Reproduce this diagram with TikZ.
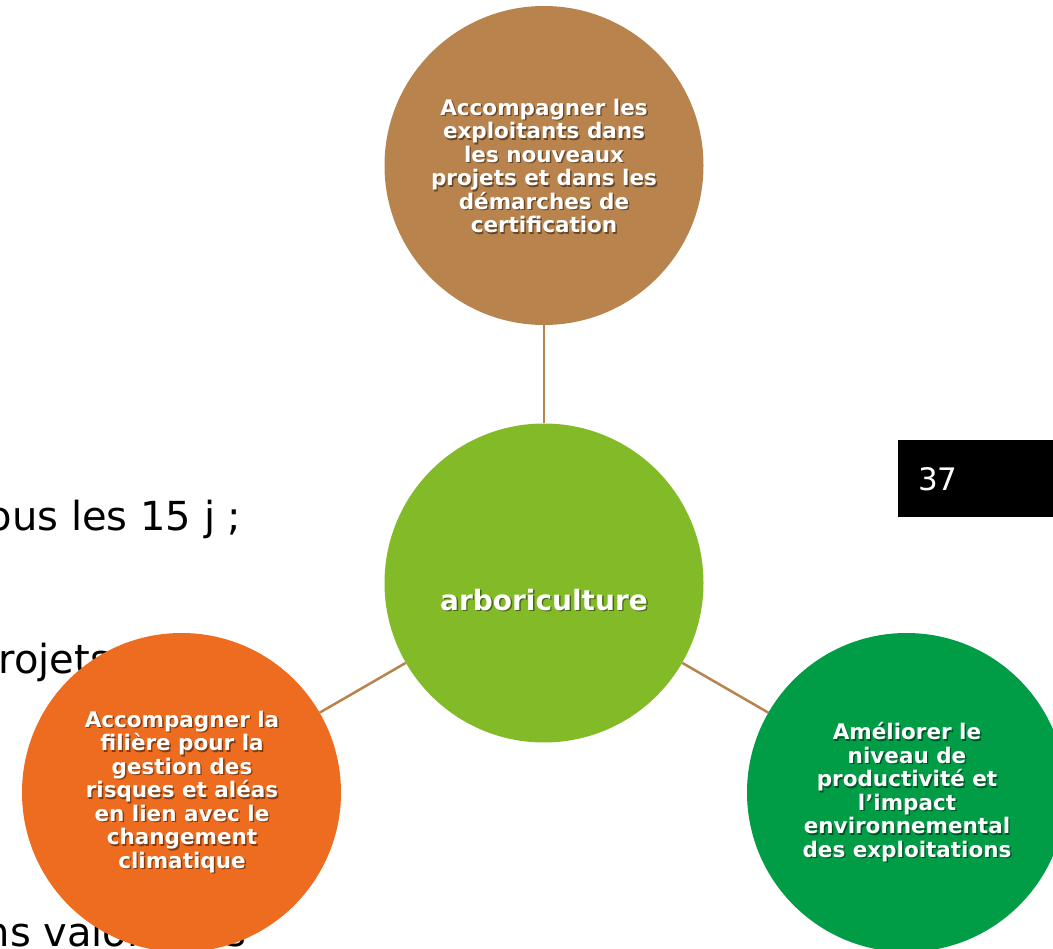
\documentclass[tikz,border=0pt]{standalone}
\usepackage{fontspec}
\setmainfont{DejaVu Sans}
\usetikzlibrary{calc}
\definecolor{cbrown}{RGB}{185,131,77}
\definecolor{clime}{RGB}{131,187,40}
\definecolor{corange}{RGB}{237,108,31}
\definecolor{cgreen}{RGB}{0,156,70}
\tikzset{
  circ/.style={circle, minimum size=319pt, inner sep=0pt, draw=none},
  link/.style={draw=cbrown, line width=2.5pt},
  ctxt/.style={align=center, inner sep=0pt, text=white, font=\bfseries\fontsize{21.5}{23.5}\selectfont},
  mtxt/.style={align=center, inner sep=0pt, text=white, font=\bfseries\fontsize{28}{32}\selectfont},
  shad/.style={text=black, opacity=0.45},
  bgtxt/.style={anchor=base west, inner sep=0pt, font=\fontsize{40}{48}\selectfont},
}
\newcommand\shadtext[4]{%
  \node[#4, shad] at ($(#1)+(1.4,1.4)$) {#3};
  \node[#4] (#2) at (#1) {#3};}
\begin{document}
\begin{tikzpicture}[x=1pt, y=-1pt]
\clip (0,0) rectangle (1053,949);
\fill[white] (0,0) rectangle (1053,949);
% background slide text
\node[bgtxt] (t1) at (-30,530) {Tous les 15 j ;};
\node[bgtxt] (t2) at (-27,673) {projets};
\node[bgtxt] (t3) at (-40,946) {ens valorisées};
% page number
\node[fill=black, minimum width=170pt, minimum height=77pt, anchor=north west, inner sep=0pt] (pg) at (898,440) {};
\node[text=white, font=\fontsize{31}{36}\selectfont, anchor=base west, inner sep=0pt] (pgn) at (918,491) {37};
% circles
\node[circ] (top) at (544,165.5) {};
\node[circ] (mid) at (544,583) {};
\node[circ] (left) at (181.5,792.5) {};
\node[circ] (right) at (906.5,792.5) {};
\draw[link] (top) -- (mid);
\draw[link] (mid) -- (left);
\draw[link] (mid) -- (right);
\fill[cbrown] (top) circle (159.5);
\fill[clime] (mid) circle (159.5);
\fill[corange] (left) circle (159.5);
\fill[cgreen] (right) circle (159.5);
% texts
\coordinate (ptop) at (544,166);
\coordinate (pmid) at (544,600);
\coordinate (pleft) at (182,792);
\coordinate (pright) at (907,792);
\shadtext{ptop}{ttop}{Accompagner les\\exploitants dans\\les nouveaux\\projets et dans les\\démarches de\\certification}{ctxt}
\shadtext{pmid}{tmid}{arboriculture}{mtxt}
\shadtext{pleft}{tleft}{Accompagner la\\filière pour la\\gestion des\\risques et aléas\\en lien avec le\\changement\\climatique}{ctxt}
\shadtext{pright}{tright}{Améliorer le\\niveau de\\productivité et\\l’impact\\environnemental\\des exploitations}{ctxt}
\end{tikzpicture}
\end{document}
